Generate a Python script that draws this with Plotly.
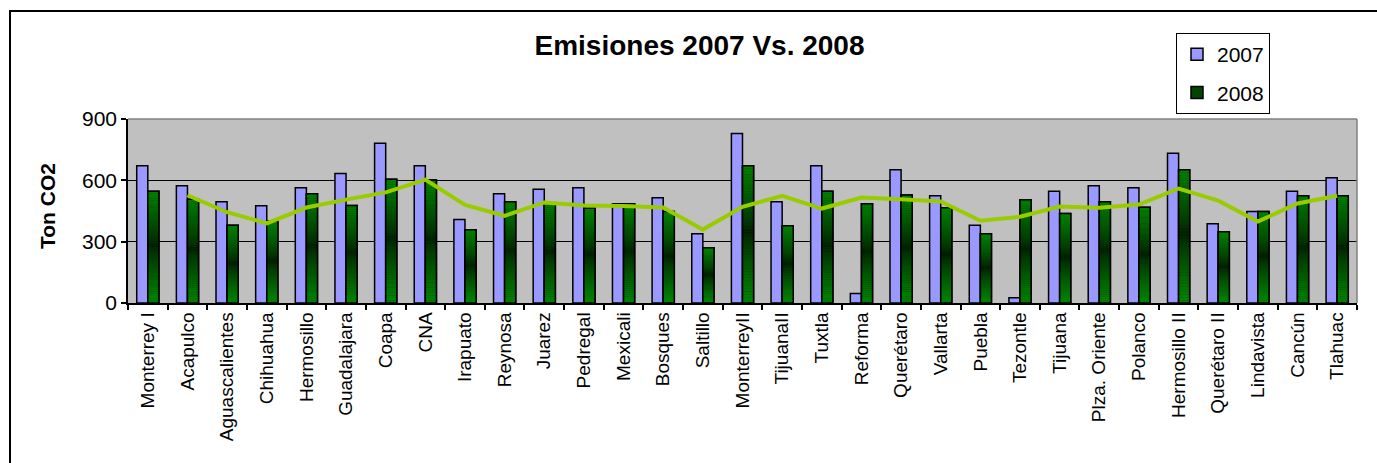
import plotly.graph_objects as go
import pandas as pd

categories = ["Monterrey I", "Acapulco", "Aguascalientes", "Chihuahua", "Hermosillo",
              "Guadalajara", "Coapa", "CNA", "Irapuato", "Reynosa", "Juarez", "Pedregal",
              "Mexicali", "Bosques", "Saltillo", "MonterreyII", "TijuanaII", "Tuxtla",
              "Reforma", "Querétaro", "Vallarta", "Puebla", "Tezontle", "Tijuana",
              "Plza. Oriente", "Polanco", "Hermosillo II", "Querétaro II", "Lindavista",
              "Cancún", "Tlahuac"]
values_2007 = [671, 574, 495, 476, 564, 634, 781, 671, 409, 534, 556, 564, 486, 515, 339,
               829, 495, 671, 47, 652, 525, 380, 26, 546, 574, 564, 732, 388, 448, 546, 613]
values_2008 = [546, 508, 380, 400, 534, 477, 605, 602, 358, 495, 489, 464, 486, 448, 270,
               671, 378, 546, 486, 528, 466, 339, 505, 438, 495, 468, 652, 349, 448, 525, 525]
y_ticks = [0, 300, 600, 900]

FONT = "Liberation Sans, Arial, sans-serif"
W, H = 1377, 463
L, R, T, B = 128, 20, 119, 160
PW, PH = W - L - R, H - T - B


def px_x(p):
    return (p - L) / PW


def px_y(p):
    return (H - B - p) / PH


fig = go.Figure()

# 2007 bars
fig.add_trace(go.Bar(
    x=categories, y=values_2007, name="2007", offsetgroup="a", legendgroup="a",
    marker=dict(color="#9999FF", line=dict(color="black", width=1.5)),
))

# 2008 base bar (gives legend entry)
fig.add_trace(go.Bar(
    x=categories, y=values_2008, name="2008", offsetgroup="b", legendgroup="b",
    marker=dict(color="rgb(0,70,0)", line=dict(color="black", width=1.5)),
))

# 2008 gradient made of stacked slices
N = 48
for k in range(N):
    f = (k + 0.5) / N
    d = min(1.0, abs(f - 0.52) / 0.48)
    g = int(28 + (128 - 28) * d ** 0.75)
    fig.add_trace(go.Bar(
        x=categories,
        y=[v / N for v in values_2008],
        base=[v * k / N for v in values_2008],
        offsetgroup="b", showlegend=False, hoverinfo="skip",
        marker=dict(color=f"rgb(0,{g},0)", line=dict(width=0)),
    ))

# outline on top
fig.add_trace(go.Bar(
    x=categories, y=values_2008, offsetgroup="b", showlegend=False, hoverinfo="skip",
    marker=dict(color="rgba(0,0,0,0)", line=dict(color="black", width=1.5)),
))

# 2-period moving average of 2008
mov_avg = pd.Series(values_2008).rolling(2).mean()
fig.add_trace(go.Scatter(
    x=categories[1:], y=mov_avg[1:].tolist(), mode="lines", showlegend=False,
    line=dict(color="#99CC00", width=4), hoverinfo="skip",
))

fig.update_layout(
    width=W, height=H,
    margin=dict(l=L, r=R, t=T, b=B),
    paper_bgcolor="white",
    plot_bgcolor="#C0C0C0",
    barmode="group",
    bargap=0.44,
    bargroupgap=0,
    font=dict(family=FONT, color="black"),
    title=dict(text="<b>Emisiones 2007 Vs. 2008</b>", x=0.508, xanchor="center",
               y=1 - 45 / H, yanchor="middle",
               font=dict(family=FONT, size=28, color="black")),
    legend=dict(x=px_x(1176), y=px_y(33), xanchor="left", yanchor="top",
                bgcolor="white", bordercolor="black", borderwidth=1,
                font=dict(family=FONT, size=21, color="black"),
                tracegroupgap=8, itemclick=False),
    xaxis=dict(type="category", tickangle=-90, tickson="boundaries",
               ticks="outside", ticklen=5, tickcolor="black", tickwidth=1.5,
               showline=True, linecolor="black", linewidth=1.5,
               showgrid=False, tickfont=dict(family=FONT, size=19, color="black")),
    yaxis=dict(range=[0, 900], tickvals=y_ticks, ticks="outside", ticklen=5,
               tickcolor="black", tickwidth=1.5, showline=True, linecolor="black",
               linewidth=1.5, showgrid=True, gridcolor="black", gridwidth=1,
               zeroline=False, tickfont=dict(family=FONT, size=21, color="black")),
    annotations=[dict(text="<b>Ton CO2</b>", xref="paper", yref="paper",
                      x=px_x(47), y=px_y(206), xanchor="center", yanchor="middle",
                      textangle=-90, showarrow=False,
                      font=dict(family=FONT, size=21, color="black"))],
    shapes=[
        dict(type="line", xref="paper", yref="paper", x0=0, x1=1, y0=1, y1=1,
             line=dict(color="#808080", width=1.5), layer="above"),
        dict(type="line", xref="paper", yref="paper", x0=1, x1=1, y0=0, y1=1,
             line=dict(color="#808080", width=1.5), layer="above"),
        dict(type="rect", xref="paper", yref="paper", x0=px_x(10), x1=px_x(1400),
             y0=px_y(500), y1=px_y(11), line=dict(color="black", width=2),
             fillcolor="rgba(0,0,0,0)", layer="above"),
    ],
)

fig.write_html("out.html")
